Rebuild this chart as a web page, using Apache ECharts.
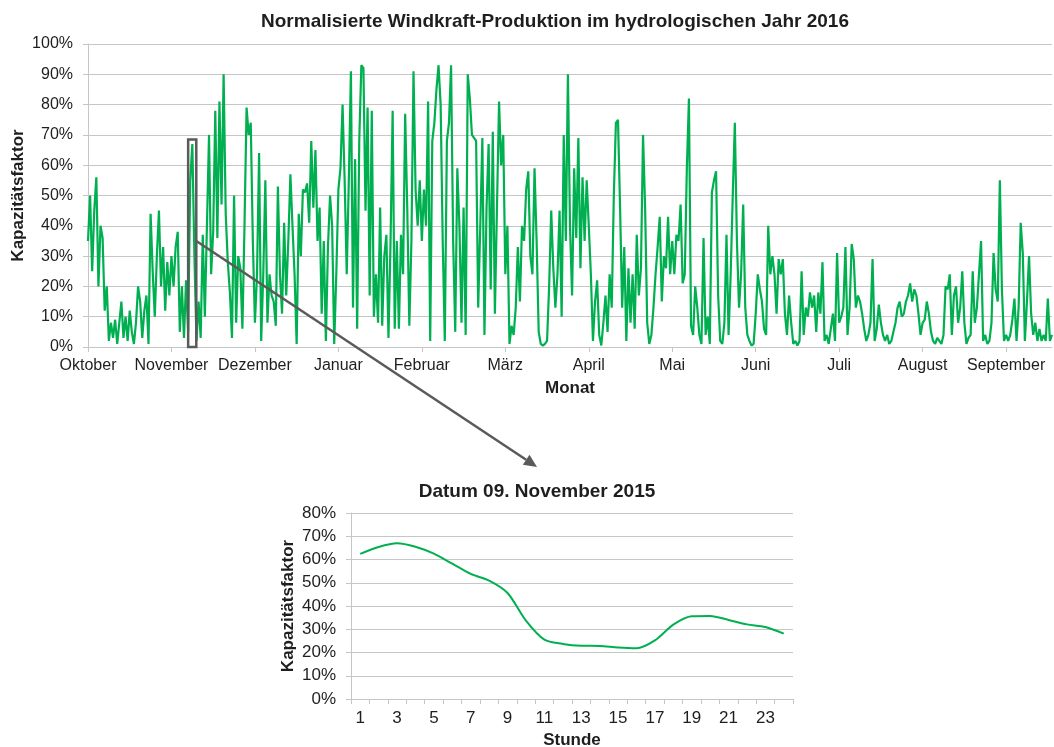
<!DOCTYPE html>
<html><head><meta charset="utf-8">
<script src="https://cdn.jsdelivr.net/npm/echarts@6/dist/echarts.min.js"></script>
<style>html,body{margin:0;padding:0;background:#fff}#c{width:1054px;height:747px}</style>
</head><body><div id="c"></div>
<script>
// ---- data ----
const months = ['Oktober','November','Dezember','Januar','Februar','März','April','Mai','Juni','Juli','August','September'];
const samplesPerMonth = 40; // samples per month (≈18 h each)
const okt = [35,50,25,45,56,20,40,36,12,20, 2,8,3,9,1,8,15,3,10,2, 12,5,1,8,20,15,3,12,17,1, 44,25,10,30,45,20,33,12,28,17];
const nov = [30,20,33,38,5,20,3,22,5,55, 67,30,2,15,3,37,10,40,70,24, 38,78,36,81,47,90,44,28,18,3, 50,8,30,26,6,40,79,70,74,35];
const dez = [8,24,64,2,24,55,8,24,17,15, 7,53,24,11,41,17,35,57,40,24, 1,44,30,52,51,54,41,68,46,65, 35,46,11,35,2,33,50,40,1,24];
const jan = [52,59,80,55,24,55,91,13,62,6, 68,93,92,45,79,17,78,10,24,8, 46,7,30,37,3,35,78,6,35,6, 37,24,77,46,7,35,91,52,40,55];
const feb = [35,52,40,81,2,68,74,85,93,80, 35,2,68,74,93,35,5,59,40,8, 46,4,90,82,70,69,68,13,40,69, 4,46,67,19,71,11,46,81,60,70];
const mar = [24,40,1,7,4,13,33,15,40,35, 52,58,30,24,59,35,5,1,0.5,1, 2,20,45,26,13,24,45,10,70,35, 90,40,17,59,36,69,26,56,35,55];
const apr = [40,24,2,15,22,4,0.5,8,17,5, 24,13,50,74,75,46,13,33,2,26, 8,24,6,37,17,26,70,46,8,1, 4,13,24,33,43,15,30,26,43,24];
const mai = [35,24,37,35,47,21,24,59,82,7, 4,20,13,4,1,36,4,10,1,51, 55,58,17,2,1,8,37,4,24,50, 74,35,13,24,47,13,4,2,0.5,1];
const jun = [11,24,19,15,6,4,40,24,30,24, 11,29,24,29,11,4,17,8,1,2, 0.5,2,25,4,13,10,18,13,17,5, 18,11,28,2,4,1,6,11,2,31];
const jul = [8,10,13,33,4,13,34,29,13,17, 15,11,6,2,4,8,29,2,6,14, 8,4,2,4,1,2,5,8,13,15, 10,11,15,17,21,15,19,17,11,4];
const aug = [8,9,15,11,5,2,1,3,2,1, 4,20,19,24,4,17,20,8,13,25, 8,1,3,4,25,8,13,24,35,2, 4,1,2,8,31,19,15,55,19,2];
const sep = [4,2,4,9,16,2,13,41,31,2, 15,30,11,4,8,2,6,2,4,2, 16,2,4];
const yearValues = [].concat(okt, nov, dez, jan, feb, mar, apr, mai, jun, jul, aug, sep);

const hours = ['1','2','3','4','5','6','7','8','9','10','11','12','13','14','15','16','17','18','19','20','21','22','23','24'];
const nov09 = [62.4,65.4,67.0,65.5,62.5,58.2,53.8,50.9,45.6,33.7,25.5,23.7,22.9,22.8,22.1,21.8,25.2,32.0,35.6,35.7,34.0,32.1,31.0,28.1];

const highlightSamples = [48, 51.9]; // 09. November in sample units
const highlightTop = 68.5;
const arrowFromValue = 35;

// ---- chart ----
const FONT = 'Liberation Sans, Arial, sans-serif';
const GRID_COLOR = '#c6c6c6';
const TEXT = '#1e1e1e';
const GREEN = '#00B050';
const monthTicks = months.map((m, k) => k * samplesPerMonth);

const chart = echarts.init(document.getElementById('c'), null, {renderer: 'canvas'});
const option = {
  animation: false,
  backgroundColor: '#fff',
  textStyle: {fontFamily: FONT},
  title: [
    {text: 'Normalisierte Windkraft-Produktion im hydrologischen Jahr 2016', left: 550, top: 7, textAlign: 'center',
     textStyle: {fontFamily: FONT, fontSize: 19, fontWeight: 'bold', color: TEXT}},
    {text: 'Datum 09. November 2015', left: 532, top: 477, textAlign: 'center',
     textStyle: {fontFamily: FONT, fontSize: 19, fontWeight: 'bold', color: TEXT}}
  ],
  grid: [
    {left: 88, right: 2, top: 44, height: 303, containLabel: false, outerBoundsMode: 'none'},
    {left: 351, right: 261, top: 513, height: 186, containLabel: false, outerBoundsMode: 'none'}
  ],
  xAxis: [
    {type: 'value', gridIndex: 0, min: 0, max: yearValues.length - 1,
     name: 'Monat', nameLocation: 'middle', nameGap: 33, nameMoveOverlap: false,
     nameTextStyle: {fontFamily: FONT, fontSize: 17, fontWeight: 'bold', color: TEXT},
     axisLine: {show: true, lineStyle: {color: GRID_COLOR, width: 1}},
     axisTick: {show: true, length: 5, lineStyle: {color: GRID_COLOR}, customValues: monthTicks},
     axisLabel: {fontFamily: FONT, fontSize: 16, color: TEXT, margin: 11, customValues: monthTicks,
       formatter: v => months[Math.round(v / samplesPerMonth)] || ''},
     splitLine: {show: false}},
    {type: 'category', gridIndex: 1, data: hours, boundaryGap: true,
     name: 'Stunde', nameLocation: 'middle', nameGap: 33, nameMoveOverlap: false,
     nameTextStyle: {fontFamily: FONT, fontSize: 17, fontWeight: 'bold', color: TEXT},
     axisLine: {lineStyle: {color: GRID_COLOR}},
     axisTick: {show: true, interval: 0, length: 5, lineStyle: {color: GRID_COLOR}},
     axisLabel: {interval: 1, fontFamily: FONT, fontSize: 17, color: TEXT, margin: 11}}
  ],
  yAxis: [
    {type: 'value', gridIndex: 0, min: 0, max: 100, interval: 10,
     name: 'Kapazitätsfaktor', nameLocation: 'middle', nameGap: 61, nameMoveOverlap: false,
     nameTextStyle: {fontFamily: FONT, fontSize: 17, fontWeight: 'bold', color: TEXT},
     axisLine: {show: true, lineStyle: {color: GRID_COLOR}},
     axisTick: {show: true, length: 5, lineStyle: {color: GRID_COLOR}},
     axisLabel: {formatter: '{value}%', fontFamily: FONT, fontSize: 16, color: TEXT, margin: 15},
     splitLine: {show: true, lineStyle: {color: GRID_COLOR, width: 1}}},
    {type: 'value', gridIndex: 1, min: 0, max: 80, interval: 10,
     name: 'Kapazitätsfaktor', nameLocation: 'middle', nameGap: 54, nameMoveOverlap: false,
     nameTextStyle: {fontFamily: FONT, fontSize: 17, fontWeight: 'bold', color: TEXT},
     axisLine: {show: true, lineStyle: {color: GRID_COLOR}},
     axisTick: {show: true, length: 5, lineStyle: {color: GRID_COLOR}},
     axisLabel: {formatter: '{value}%', fontFamily: FONT, fontSize: 17, color: TEXT, margin: 15},
     splitLine: {show: true, lineStyle: {color: GRID_COLOR, width: 1}}}
  ],
  series: [
    {type: 'line', xAxisIndex: 0, yAxisIndex: 0, data: yearValues.map((v, i) => [i, v]),
     showSymbol: false, symbol: 'none', lineStyle: {color: GREEN, width: 2.2}, itemStyle: {color: GREEN},
     markArea: {silent: true, z: 10,
       itemStyle: {color: 'rgba(0,0,0,0)', borderColor: '#5a5a5a', borderWidth: 2.5},
       data: [[{xAxis: highlightSamples[0], yAxis: 0}, {xAxis: highlightSamples[1], yAxis: highlightTop}]]}},
    {type: 'line', xAxisIndex: 1, yAxisIndex: 1, data: nov09, smooth: 0.3,
     showSymbol: false, symbol: 'none', lineStyle: {color: GREEN, width: 2}, itemStyle: {color: GREEN}}
  ]
};
chart.setOption(option);

// arrow from the highlighted day to the detail chart
const start = chart.convertToPixel({xAxisIndex: 0, yAxisIndex: 0}, [highlightSamples[1], arrowFromValue]);
const end = [537, 467];
const dx = end[0] - start[0], dy = end[1] - start[1];
const len = Math.sqrt(dx * dx + dy * dy);
const ux = dx / len, uy = dy / len;
const headLen = 13, headHalf = 6;
const base = [end[0] - ux * headLen, end[1] - uy * headLen];
chart.setOption({
  graphic: [
    {type: 'line', z: 100, shape: {x1: start[0], y1: start[1], x2: base[0], y2: base[1]},
     style: {stroke: '#5a5a5a', lineWidth: 2.5}},
    {type: 'polygon', z: 100, shape: {points: [end, [base[0] - uy * headHalf, base[1] + ux * headHalf], [base[0] + uy * headHalf, base[1] - ux * headHalf]]},
     style: {fill: '#5a5a5a'}}
  ]
});
</script>
</body></html>
